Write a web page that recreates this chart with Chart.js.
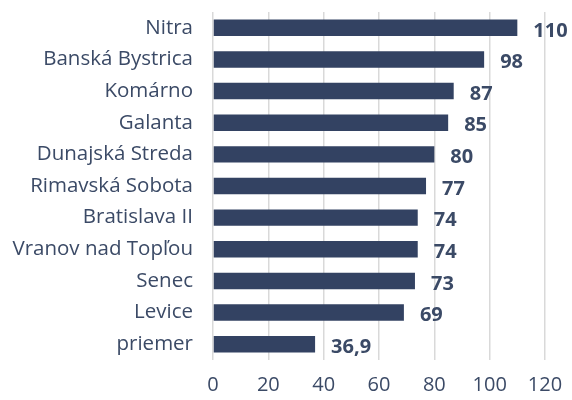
<!DOCTYPE html>
<html>
<head>
<meta charset="utf-8">
<script src="https://cdn.jsdelivr.net/npm/chart.js@4/dist/chart.umd.min.js"></script>
<style>
  html, body { margin: 0; padding: 0; background: #fff; }
  #wrap { width: 572px; height: 400px; }
</style>
</head>
<body>
<div id="wrap"><canvas id="chart"></canvas></div>
<script>
// okresy a hodnoty
const categories = ['Nitra', 'Banská Bystrica', 'Komárno', 'Galanta', 'Dunajská Streda',
  'Rimavská Sobota', 'Bratislava II', 'Vranov nad Topľou', 'Senec', 'Levice', 'priemer'];
const values = [110, 98, 87, 85, 80, 77, 74, 74, 73, 69, 36.9];
const valueLabels = ['110', '98', '87', '85', '80', '77', '74', '74', '73', '69', '36,9'];
const xTicks = [0, 20, 40, 60, 80, 100, 120];

const barColor = '#334262';
const textColor = '#3b4a66';
const fontFamily = "'Open Sans', 'Noto Sans', sans-serif";

// popisky hodnôt vpravo od stĺpcov
const valueLabelPlugin = {
  id: 'valueLabels',
  afterDatasetsDraw(chart) {
    const ctx = chart.ctx;
    const meta = chart.getDatasetMeta(0);
    ctx.save();
    ctx.font = 'bold 20px ' + fontFamily;
    ctx.fillStyle = textColor;
    ctx.textAlign = 'left';
    ctx.textBaseline = 'middle';
    meta.data.forEach((bar, i) => {
      ctx.fillText(valueLabels[i], bar.x + 16, bar.y + 3);
    });
    ctx.restore();
  }
};

// bez extra okrajov od popiskov osí
function noEdgePadding(scale) {
  scale.paddingTop = 0;
  scale.paddingBottom = 0;
  scale.paddingLeft = 0;
  scale.paddingRight = 0;
}

const ctx = document.getElementById('chart').getContext('2d');
new Chart(ctx, {
  type: 'bar',
  data: {
    labels: categories,
    datasets: [{
      data: values,
      backgroundColor: barColor,
      borderWidth: 0,
      barPercentage: 0.52,
      categoryPercentage: 1
    }]
  },
  options: {
    indexAxis: 'y',
    responsive: true,
    maintainAspectRatio: false,
    animation: false,
    layout: { padding: { top: 12, right: 27, left: 0, bottom: 0 } },
    plugins: {
      legend: { display: false },
      tooltip: { enabled: false }
    },
    scales: {
      x: {
        min: 0,
        max: 120,
        afterBuildTicks(axis) { axis.ticks = xTicks.map(v => ({ value: v })); },
        afterFit(scale) { noEdgePadding(scale); scale.height = 40; },
        grid: { color: '#d9d9d9', lineWidth: 1.5, drawTicks: false },
        border: { display: false },
        ticks: {
          color: textColor,
          padding: 13,
          font: { family: fontFamily, size: 20 }
        }
      },
      y: {
        afterFit(scale) { noEdgePadding(scale); scale.width = 213; },
        grid: { display: false, drawTicks: false },
        border: { display: false },
        ticks: {
          color: textColor,
          padding: 20,
          font: { family: fontFamily, size: 20.5 }
        }
      }
    }
  },
  plugins: [valueLabelPlugin]
});
</script>
</body>
</html>
